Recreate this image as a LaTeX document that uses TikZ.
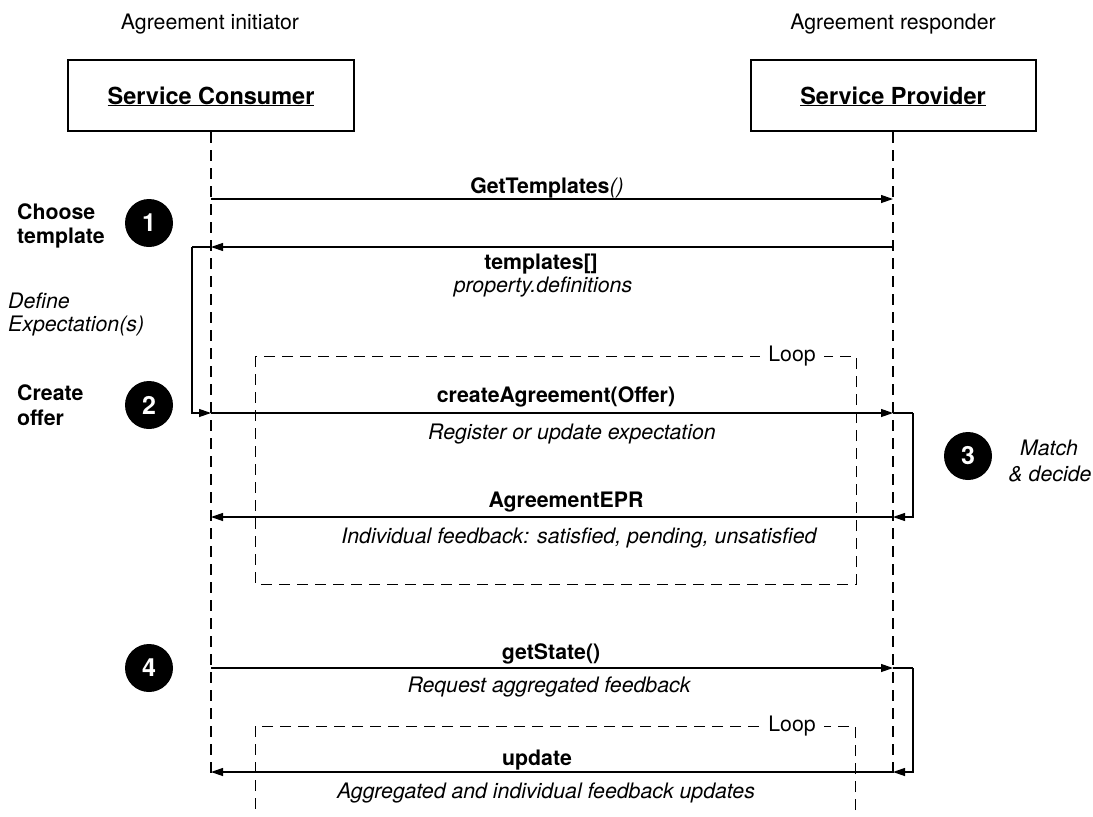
\documentclass[tikz,border=0pt]{standalone}
\usepackage{fontspec}
\setmainfont{TeX Gyre Heros}
\usetikzlibrary{arrows.meta}
\begin{document}
\begin{tikzpicture}[x=1pt,y=-1pt,
  txt/.style={font=\fontsize{21.3}{25}\selectfont, inner sep=0pt, anchor=base},
  btxt/.style={txt, font=\fontsize{21.3}{25}\selectfont\bfseries},
  itxt/.style={txt, font=\fontsize{21.3}{25}\selectfont\itshape},
  actor/.style={draw, line width=2.5pt, inner sep=0pt},
  lifeline/.style={line width=2.8pt, dash pattern=on 11pt off 7pt},
  loopbox/.style={line width=1pt, dash pattern=on 11pt off 7pt},
  msg/.style={line width=1.2pt, -{Triangle[length=12pt,width=8pt]}},
  plain/.style={line width=1.2pt},
  badge/.style={circle, fill=black, minimum size=48pt, inner sep=0pt, text=white,
    font=\fontsize{25}{26}\selectfont\bfseries},
  looplbl/.style={fill=white, inner xsep=8pt, inner ysep=2pt, font=\fontsize{21.3}{25}\selectfont}
]
\useasboundingbox (0,0) rectangle (1093,817);

% headers
\node[txt] (hinit) at (210,29) {Agreement initiator};
\node[txt] (hresp) at (893,29) {Agreement responder};

% actor boxes
\draw[actor] (68,60) rectangle (354,131);
\draw[actor] (751,60) rectangle (1036,131);
\node[txt, font=\fontsize{23.5}{26}\selectfont\bfseries] (cons) at (211,104) {\underline{Service Consumer}};
\node[txt, font=\fontsize{23.5}{26}\selectfont\bfseries] (prov) at (893,104) {\underline{Service Provider}};

% lifeline coordinates
\coordinate (ctop) at (211,132);
\coordinate (cbot) at (211,777);
\coordinate (ptop) at (893,132);
\coordinate (pbot) at (893,777);
\draw[lifeline] (ctop) -- (cbot);
\draw[lifeline] (ptop) -- (pbot);

% loop boxes
\draw[loopbox] (255,356) rectangle (856,584);
\node[looplbl] (loop1) at (792,356) {Loop};
\draw[loopbox] (855,810) -- (855,726) -- (255,726) -- (255,810);
\node[looplbl] (loop2) at (792,726) {Loop};

% message points
\coordinate (c1) at (211,199);  \coordinate (p1) at (893,199);
\coordinate (c2) at (211,247);  \coordinate (p2) at (893,247);
\coordinate (c3) at (211,413);  \coordinate (p3) at (893,413);
\coordinate (c4) at (211,517);  \coordinate (p4) at (893,517);
\coordinate (c5) at (211,668);  \coordinate (p5) at (893,668);
\coordinate (c6) at (211,772);  \coordinate (p6) at (893,772);
\coordinate (lc1) at (192,247); \coordinate (lc2) at (192,413);
\coordinate (rc1) at (913,413); \coordinate (rc2) at (913,517);
\coordinate (rc3) at (913,668); \coordinate (rc4) at (913,772);

% messages
\draw[msg] (c1) -- (p1);
\draw[msg] (p2) -- (c2);
\draw[plain] (c2) -- (lc1);
\draw[msg] (lc1) -- (lc2) -- (c3);
\draw[msg] (c3) -- (p3);
\draw[plain] (p3) -- (rc1);
\draw[msg] (rc1) -- (rc2) -- (p4);
\draw[msg] (p4) -- (c4);
\draw[msg] (c5) -- (p5);
\draw[plain] (p5) -- (rc3);
\draw[msg] (rc3) -- (rc4) -- (p6);
\draw[msg] (p6) -- (c6);

% message labels
\node[txt] (m1) at (547,193) {\bfseries GetTemplates\mdseries\itshape()};
\node[btxt] (m2) at (541,269) {templates[]};
\node[itxt] (m2b) at (543,292) {property.definitions};
\node[btxt] (m3) at (556,402) {createAgreement(Offer)};
\node[itxt] (m3b) at (572,439) {Register or update expectation};
\node[btxt] (m4) at (566,507) {AgreementEPR};
\node[itxt] (m4b) at (579,543) {Individual feedback: satisfied, pending, unsatisfied};
\node[btxt] (m5) at (551,659) {getState()};
\node[itxt] (m5b) at (549,692) {Request aggregated feedback};
\node[btxt] (m6) at (537,765) {update};
\node[itxt] (m6b) at (546,798) {Aggregated and individual feedback updates};

% side labels
\node[btxt, anchor=base west] (s1a) at (17,219) {Choose};
\node[btxt, anchor=base west] (s1b) at (17,243) {template};
\node[itxt, anchor=base west] (s2a) at (8,308) {Define};
\node[itxt, anchor=base west] (s2b) at (8,331) {Expectation(s)};
\node[btxt, anchor=base west] (s3a) at (17,400) {Create};
\node[btxt, anchor=base west] (s3b) at (17,425) {offer};
\node[itxt] (s4a) at (1049,455) {Match};
\node[itxt] (s4b) at (1050,481) {\& decide};

% badges
\node[badge] (b1) at (149,223) {1};
\node[badge] (b2) at (149,405) {2};
\node[badge] (b3) at (968,456) {3};
\node[badge] (b4) at (149,668) {4};
\end{tikzpicture}
\end{document}
